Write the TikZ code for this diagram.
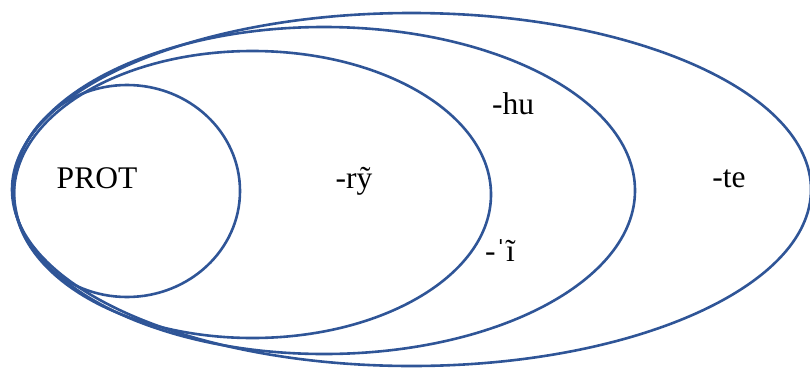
\documentclass[tikz,border=0pt]{standalone}
\usepackage{fontspec}
\setmainfont{Liberation Serif}
\usetikzlibrary{shapes.geometric}

\begin{document}
\begin{tikzpicture}[
  x=1pt,
  y=-1pt,
  ring/.style={
    ellipse,
    draw=ringblue,
    line width=2.6pt,
    inner sep=0pt
  },
  label/.style={
    font=\fontsize{31.5}{36}\selectfont,
    inner sep=0pt
  }
]
  \definecolor{ringblue}{RGB}{47,85,151}
  \useasboundingbox (0,0) rectangle (810,367);

  \node[ring,minimum width=799pt,minimum height=353pt] (teset) at (411.5,189.5) {};
  \node[ring,minimum width=622pt,minimum height=327pt] (huset) at (324,190.5) {};
  \node[ring,minimum width=477pt,minimum height=287pt] (ryset) at (252.5,194.5) {};
  \node[ring,minimum width=226pt,minimum height=212pt] (protset) at (127,191) {};

  \node[label] (prot) at (97,178) {PROT};
  \node[label] (ry) at (354,181) {-rỹ};
  \node[label] (hu) at (513,104) {-hu};
  \node[label] (ii) at (500,251) {-ˈĩ};
  \node[label] (te) at (729,179) {-te};
\end{tikzpicture}
\end{document}
